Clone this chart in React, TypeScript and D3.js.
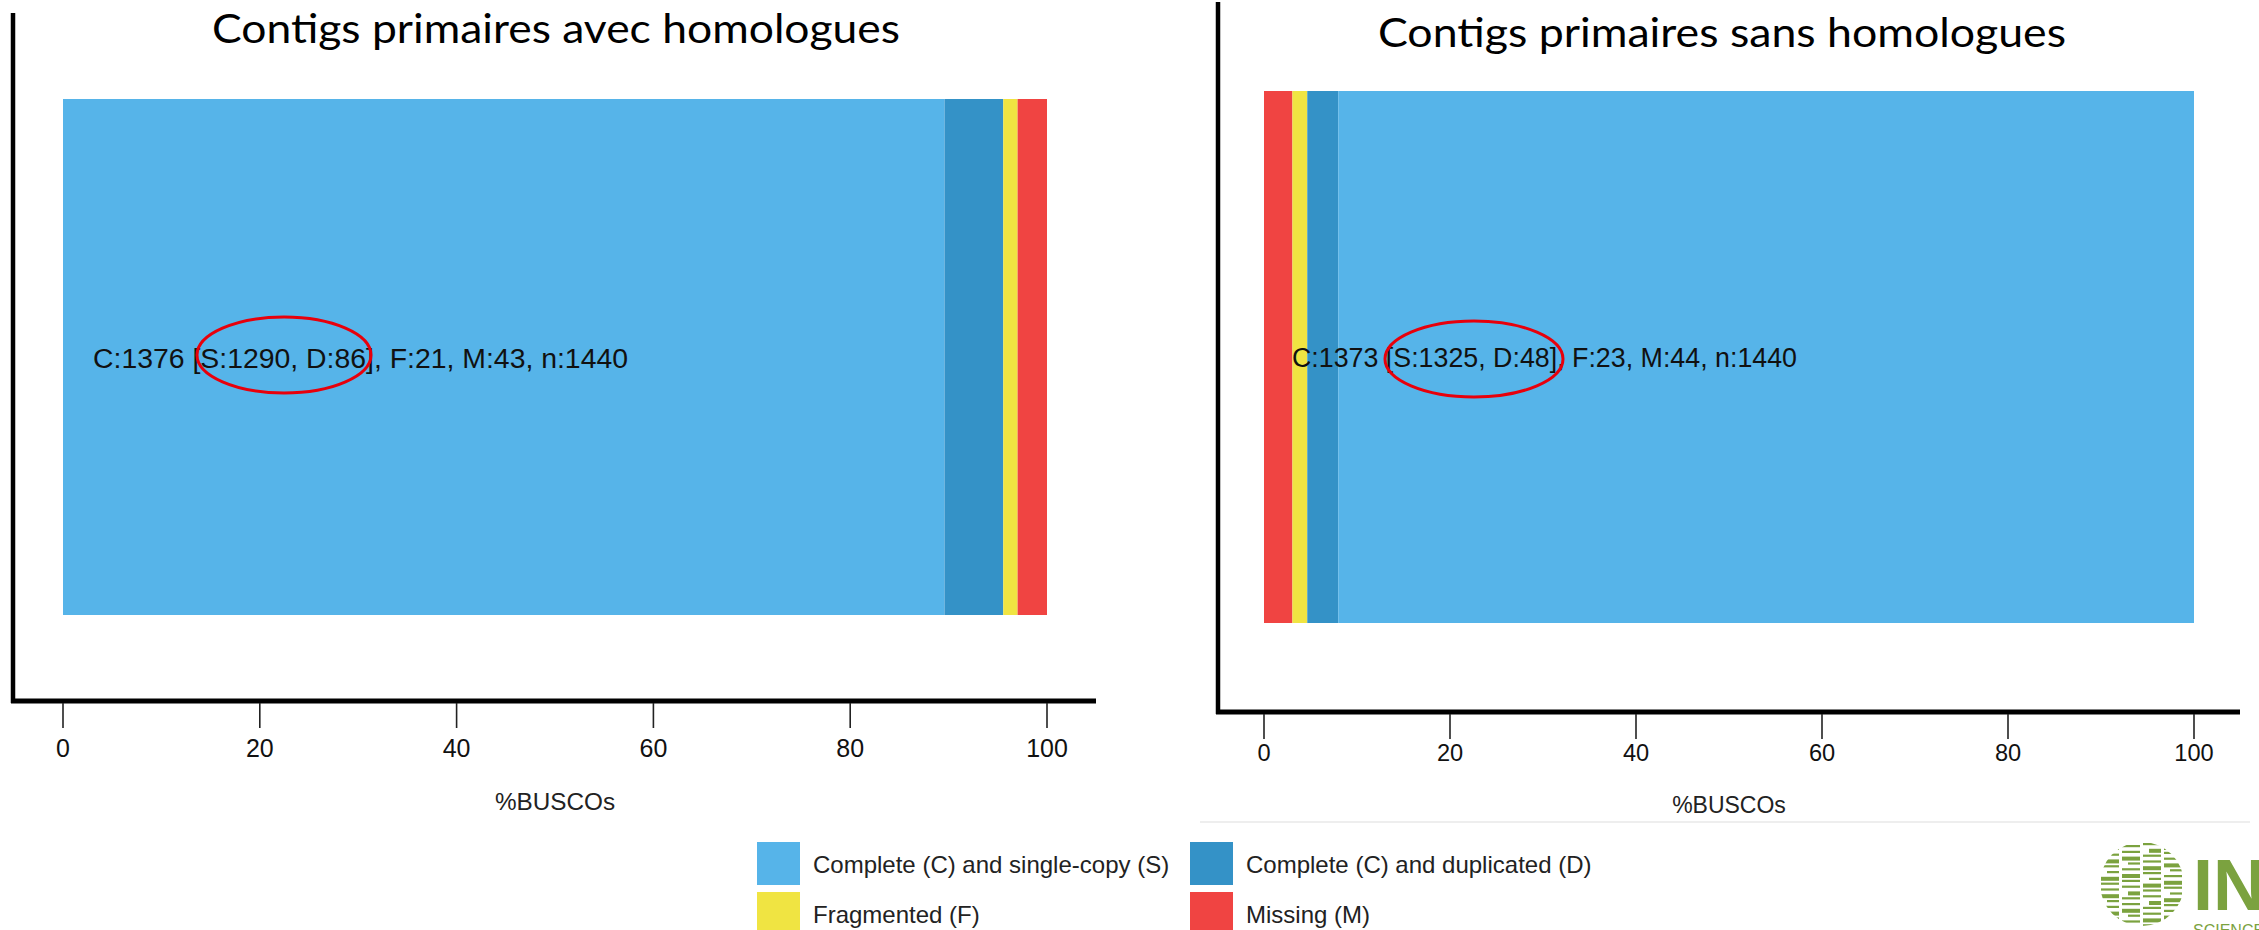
import React from "react";
import * as d3 from "d3";

// ---------- data ----------
const categoryKeys = ["S", "D", "F", "M"];
const categoryLabels = [
  "Complete (C) and single-copy (S)",
  "Complete (C) and duplicated (D)",
  "Fragmented (F)",
  "Missing (M)",
];
const categoryColors = ["#56B4E9", "#3492C7", "#F0E442", "#F04442"];

const panelTitles = ["Contigs primaires avec homologues", "Contigs primaires sans homologues"];
const withHomologues = [1290, 86, 21, 43]; // S, D, F, M
const withoutHomologues = [1325, 48, 23, 44]; // S, D, F, M
const totals = [1440, 1440];
const stackOrders = [
  ["S", "D", "F", "M"],
  ["M", "F", "D", "S"],
];
const tickValues = [0, 20, 40, 60, 80, 100];
const xAxisLabel = "%BUSCOs";

// ---------- layout ----------
const W = 2259;
const H = 930;

const panelLayouts = [
  {
    x0: 63, x1: 1047, barTop: 99, barBottom: 615,
    axisY: 701, axisLeftX: 13, axisTopY: 13, axisRightX: 1096,
    tickLabelY: 757, tickFont: 25, labelY: 810, labelFont: 24.3,
    titleX: 556, titleY: 43, titleW: 688,
    textX: 93, textY: 358, textFont: 28.4,
    ell: { cx: 284, cy: 355, rx: 87, ry: 38 },
  },
  {
    x0: 1264, x1: 2194, barTop: 91, barBottom: 623,
    axisY: 712, axisLeftX: 1218, axisTopY: 2, axisRightX: 2240,
    tickLabelY: 761, tickFont: 23.6, labelY: 813, labelFont: 23,
    titleX: 1722, titleY: 47, titleW: 688,
    textX: 1292, textY: 358, textFont: 26.8,
    ell: { cx: 1474, cy: 359, rx: 89, ry: 38 },
  },
];

const panelData = [withHomologues, withoutHomologues];

function Panel({ idx }: { idx: number }) {
  const L = panelLayouts[idx];
  const values = panelData[idx];
  const n = totals[idx];
  const x = d3.scaleLinear().domain([0, 100]).range([L.x0, L.x1]);
  const y = d3.scaleBand().domain(["bar"]).range([L.barTop, L.barBottom]).padding(0);

  const pct = (k: string) => (values[categoryKeys.indexOf(k)] / n) * 100;
  const order = stackOrders[idx];
  let acc = 0;
  const segs = order.map((k) => {
    const start = acc;
    acc += pct(k);
    return { k, start, end: acc, color: categoryColors[categoryKeys.indexOf(k)] };
  });

  const S = values[0], D = values[1], F = values[2], M = values[3];
  const label = `C:${S + D} [S:${S}, D:${D}], F:${F}, M:${M}, n:${n}`;
  const font = "'Liberation Sans', Arial, Helvetica, sans-serif";

  return (
    <g>
      <text
        x={L.titleX - L.titleW / 2}
        y={L.titleY}
        fontFamily="Lato, 'Noto Sans', sans-serif"
        fontSize={41}
        textLength={L.titleW}
        lengthAdjust="spacingAndGlyphs"
        fill="#000"
      >
        {panelTitles[idx]}
      </text>
      {segs.map((s) => (
        <rect
          key={s.k}
          x={x(s.start)}
          y={y("bar")!}
          width={x(s.end) - x(s.start)}
          height={y.bandwidth()}
          fill={s.color}
        />
      ))}
      <text x={L.textX} y={L.textY} dominantBaseline="central" fontFamily={font} fontSize={L.textFont} fill="#111">
        {label}
      </text>
      <ellipse cx={L.ell.cx} cy={L.ell.cy} rx={L.ell.rx} ry={L.ell.ry} fill="none" stroke="#E8000B" strokeWidth={3} />
      {/* axes */}
      <line x1={L.axisLeftX} x2={L.axisLeftX} y1={L.axisTopY} y2={L.axisY + 2} stroke="#000" strokeWidth={4.5} />
      <line x1={L.axisLeftX - 2} x2={L.axisRightX} y1={L.axisY} y2={L.axisY} stroke="#000" strokeWidth={5} />
      {tickValues.map((t) => (
        <g key={t}>
          <line x1={x(t)} x2={x(t)} y1={L.axisY + 2} y2={L.axisY + 27} stroke="#222" strokeWidth={1.6} />
          <text x={x(t)} y={L.tickLabelY} textAnchor="middle" fontFamily={font} fontSize={L.tickFont} fill="#111">
            {t}
          </text>
        </g>
      ))}
      <text
        x={(x(0) + x(100)) / 2}
        y={L.labelY}
        textAnchor="middle"
        fontFamily={font}
        fontSize={L.labelFont}
        fill="#222"
      >
        {xAxisLabel}
      </text>
    </g>
  );
}

function Legend() {
  const font = "'Liberation Sans', Arial, Helvetica, sans-serif";
  const cols = [757, 1190];
  const rows = [842, 892];
  return (
    <g>
      {categoryLabels.map((lab, i) => {
        const cx = cols[i % 2];
        const cy = rows[Math.floor(i / 2)];
        return (
          <g key={lab}>
            <rect x={cx} y={cy} width={43} height={43} fill={categoryColors[i]} />
            <text x={cx + 56} y={cy + 22} dominantBaseline="central" fontFamily={font} fontSize={24} fill="#222">
              {lab}
            </text>
          </g>
        );
      })}
    </g>
  );
}

function Logo() {
  const cx = 2142, cy = 884, r = 42;
  const green = "#7BA23F";
  const colW = 2 * r / 4;
  const stripes: { x: number; y: number; w: number; h: number }[] = [];
  for (let c = 0; c < 4; c++) {
    for (let j = 0; j < 15; j++) {
      const yy = cy - r + j * 5.8 + ((c * 3) % 5);
      const thick = (j + c) % 3 === 0 ? 4 : 2.2;
      const inset = (j * 7 + c * 5) % 9;
      stripes.push({ x: cx - r + c * colW + 1 + (inset > 6 ? 6 : 0), y: yy, w: colW - 3 - (inset > 6 ? 6 : 0), h: thick });
    }
  }
  return (
    <g>
      <defs>
        <clipPath id="logoClip">
          <circle cx={cx} cy={cy} r={r} />
        </clipPath>
      </defs>
      <g clipPath="url(#logoClip)">
        {stripes.map((s, i) => (
          <rect key={i} x={s.x} y={s.y} width={s.w} height={s.h} fill={green} />
        ))}
      </g>
      <text x={2193} y={910} fontFamily="'Liberation Sans', Arial, sans-serif" fontSize={72} fontWeight="bold" fill={green}>
        IN
      </text>
      <text x={2193} y={936} fontFamily="'Liberation Sans', Arial, sans-serif" fontSize={16} fill={green}>
        SCIENCE &amp;
      </text>
    </g>
  );
}

export default function App() {
  return (
    <svg
      width={W}
      height={H}
      viewBox={`0 0 ${W} ${H}`}
      style={{ position: "absolute", left: 0, top: 0, display: "block", background: "#fff" }}
    >
      <rect x={0} y={0} width={W} height={H} fill="#fff" />
      <line x1={1200} x2={2250} y1={822} y2={822} stroke="#e8e8e8" strokeWidth={1.5} />
      <Panel idx={0} />
      <Panel idx={1} />
      <Legend />
      <Logo />
    </svg>
  );
}
